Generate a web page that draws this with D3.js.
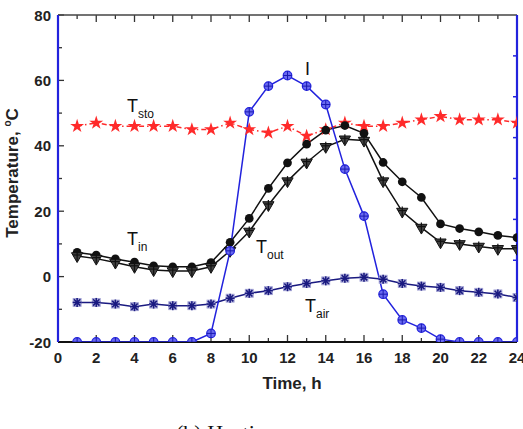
<!DOCTYPE html>
<html>
<head>
<meta charset="utf-8">
<script src="https://cdn.jsdelivr.net/npm/d3@7.9.0/dist/d3.min.js"></script>
<style>
  body { margin: 0; background: #fff; }
  svg { display: block; font-family: Arial, "Liberation Sans", sans-serif; }
</style>
</head>
<body>
<svg id="chart" width="523" height="429"></svg>
<script>
// hours of the day
const hours = d3.range(1, 25);
// temperatures, deg C (left axis)
const tSto = [46, 47, 46, 46, 46, 46, 45, 45, 47, 45, 44, 46, 43, 45, 47, 46, 46, 47, 48, 49, 48, 48, 48, 47];
const tIn  = [7.4, 6.6, 5.4, 4.4, 3.3, 3.0, 3.0, 4.3, 10.5, 17.8, 27.0, 34.8, 40.5, 44.8, 46.2, 43.8, 34.9, 29.0, 24.2, 16.1, 14.7, 13.7, 12.6, 11.9];
const tOut = [6.3, 5.5, 4.3, 3.0, 2.0, 1.7, 1.7, 3.0, 7.9, 13.8, 21.9, 29.2, 34.9, 39.7, 42.0, 41.6, 29.2, 19.9, 15.0, 10.5, 10.0, 9.2, 8.5, 8.5];
const tAir = [-7.9, -7.9, -8.4, -9.2, -8.4, -8.9, -8.9, -8.4, -6.6, -5.1, -4.3, -3.1, -2.1, -1.3, -0.5, -0.2, -0.8, -2.1, -2.9, -3.3, -4.3, -4.8, -5.3, -6.4];
// irradiance I (right axis)
const irr  = [0, 0, 0, 0, 0, 0, 0, 21, 223, 563, 626, 652, 626, 581, 423, 308, 117, 54, 34, 7, 0, 0, 0, 0];

const xTicks = d3.range(0, 25, 2);
const yTicks = d3.range(-20, 81, 20);

const svg = d3.select('#chart');
const pL = 58, pR = 517, pT = 15, pB = 342;

const x = d3.scaleLinear().domain([0, 24]).range([pL, pR]);
const y = d3.scaleLinear().domain([-20, 80]).range([pB, pT]);
const yR = d3.scaleLinear().domain([0, 800]).range([pB, pT]);

const blue = '#2222dd';
const navy = '#1a1a80';
const red = '#ff2a2a';

svg.append('clipPath').attr('id', 'plotclip')
  .append('rect').attr('x', pL).attr('y', pT).attr('width', pR - pL).attr('height', pB - pT);

// ticks, all pointing inward
d3.range(1, 24, 2).forEach(h => {
  svg.append('line').attr('x1', x(h)).attr('x2', x(h)).attr('y1', pT).attr('y2', pT + 4).attr('stroke', '#333').attr('stroke-width', 1.3);
  svg.append('line').attr('x1', x(h)).attr('x2', x(h)).attr('y1', pB).attr('y2', pB - 4).attr('stroke', '#333').attr('stroke-width', 1.3);
});
xTicks.forEach(h => {
  svg.append('line').attr('x1', x(h)).attr('x2', x(h)).attr('y1', pT).attr('y2', pT + 7).attr('stroke', '#333').attr('stroke-width', 1.3);
  svg.append('line').attr('x1', x(h)).attr('x2', x(h)).attr('y1', pB).attr('y2', pB - 7).attr('stroke', '#333').attr('stroke-width', 1.3);
});
d3.range(-10, 80, 20).forEach(v => {
  svg.append('line').attr('x1', pL).attr('x2', pL + 4).attr('y1', y(v)).attr('y2', y(v)).attr('stroke', '#333').attr('stroke-width', 1.3);
});
yTicks.forEach(v => {
  svg.append('line').attr('x1', pL).attr('x2', pL + 6).attr('y1', y(v)).attr('y2', y(v)).attr('stroke', '#333').attr('stroke-width', 1.3);
});
d3.range(100, 800, 100).forEach(v => {
  svg.append('line').attr('x1', pR).attr('x2', pR - 4).attr('y1', yR(v)).attr('y2', yR(v)).attr('stroke', blue).attr('stroke-width', 1.5);
});

// frame
svg.append('line').attr('x1', pL).attr('x2', pR).attr('y1', pT).attr('y2', pT).attr('stroke', '#444').attr('stroke-width', 1.5);
svg.append('line').attr('x1', pL).attr('x2', pR).attr('y1', pB).attr('y2', pB).attr('stroke', '#111').attr('stroke-width', 2);
svg.append('line').attr('x1', pL).attr('x2', pL).attr('y1', pT).attr('y2', pB).attr('stroke', blue).attr('stroke-width', 2.2);
svg.append('line').attr('x1', pR).attr('x2', pR).attr('y1', pT).attr('y2', pB).attr('stroke', blue).attr('stroke-width', 2.2);

// tick labels
svg.selectAll('.xl').data(xTicks).join('text')
  .attr('x', d => x(d)).attr('y', 363).attr('text-anchor', 'middle')
  .attr('font-size', 15).attr('font-weight', 'bold').attr('fill', '#222').text(d => d);
svg.selectAll('.yl').data(yTicks).join('text')
  .attr('x', 51).attr('y', d => y(d) + 5.5).attr('text-anchor', 'end')
  .attr('font-size', 15).attr('font-weight', 'bold').attr('fill', '#222').text(d => d);

// axis titles
svg.append('text').attr('x', 292).attr('y', 389).attr('text-anchor', 'middle')
  .attr('font-size', 17).attr('font-weight', 'bold').attr('fill', '#222').text('Time, h');
const yt = svg.append('text').attr('transform', 'translate(18,173) rotate(-90)').attr('text-anchor', 'middle')
  .attr('font-size', 17).attr('font-weight', 'bold').attr('fill', '#222');
yt.append('tspan').text('Temperature, ');
yt.append('tspan').attr('font-size', 10).attr('dy', -7).text('o');
yt.append('tspan').attr('dy', 7).text('C');

// series
const plot = svg.append('g').attr('clip-path', 'url(#plotclip)');
function series(vals, scale, color, dash, width) {
  const line = d3.line().x((d, i) => x(hours[i])).y(d => scale(d));
  plot.append('path').datum(vals).attr('d', line).attr('fill', 'none')
    .attr('stroke', color).attr('stroke-width', width).attr('stroke-dasharray', dash);
}
series(tAir, y, navy, null, 1.5);
series(tSto, y, red, '5,3,1.5,3', 1.5);
series(tIn, y, '#111', null, 1.5);
series(tOut, y, '#111', null, 1.5);
series(irr, yR, blue, null, 1.5);

const star = d3.symbol().type(d3.symbolStar).size(60);
const circ = d3.symbol().type(d3.symbolCircle).size(60);
const tri = d3.symbol().type(d3.symbolTriangle).size(55);

// T_air: square with asterisk
tAir.forEach((v, i) => {
  const g = plot.append('g').attr('transform', `translate(${x(hours[i])},${y(v)})`);
  g.append('rect').attr('x', -4).attr('y', -4).attr('width', 8).attr('height', 8).attr('fill', '#b8b8e0').attr('stroke', '#9a9ad0').attr('stroke-width', 0.8);
  [0, 45, 90, 135].forEach(a => {
    g.append('line').attr('x1', -4.5).attr('x2', 4.5).attr('y1', 0).attr('y2', 0)
      .attr('transform', `rotate(${a})`).attr('stroke', navy).attr('stroke-width', 1.6);
  });
});
// T_sto stars
tSto.forEach((v, i) => {
  plot.append('path').attr('d', star()).attr('transform', `translate(${x(hours[i])},${y(v)})`).attr('fill', red);
});
// T_in circles
tIn.forEach((v, i) => {
  plot.append('path').attr('d', circ()).attr('transform', `translate(${x(hours[i])},${y(v)})`).attr('fill', '#111');
});
// T_out down triangles with cross
tOut.forEach((v, i) => {
  const g = plot.append('g').attr('transform', `translate(${x(hours[i])},${y(v)})`);
  g.append('path').attr('d', tri()).attr('transform', 'rotate(180)').attr('fill', '#444').attr('stroke', '#111').attr('stroke-width', 1);
  g.append('line').attr('x1', -4).attr('x2', 4).attr('y1', -1).attr('y2', -1).attr('stroke', '#111').attr('stroke-width', 1.2);
  g.append('line').attr('x1', 0).attr('x2', 0).attr('y1', -5).attr('y2', 5).attr('stroke', '#111').attr('stroke-width', 1.2);
});
// I circles with cross
irr.forEach((v, i) => {
  const g = plot.append('g').attr('transform', `translate(${x(hours[i])},${yR(v)})`);
  g.append('circle').attr('r', 4.3).attr('fill', '#6a6af0').attr('stroke', blue).attr('stroke-width', 1.2);
  g.append('line').attr('x1', -4.3).attr('x2', 4.3).attr('stroke', '#1a1ab0').attr('stroke-width', 1);
  g.append('line').attr('y1', -4.3).attr('y2', 4.3).attr('stroke', '#1a1ab0').attr('stroke-width', 1);
});

// labels
function label(px, py, main, sub) {
  const t = svg.append('text').attr('x', px).attr('y', py).attr('font-size', 18).attr('fill', '#111');
  t.append('tspan').text(main);
  if (sub) t.append('tspan').attr('font-size', 12).attr('dy', 6).text(sub);
}
label(127, 112, 'T', 'sto');
label(305, 75, 'I');
label(127, 245, 'T', 'in');
label(256, 253, 'T', 'out');
label(305, 312, 'T', 'air');

// caption (cut off at the bottom)
svg.append('text').attr('x', 176).attr('y', 440).attr('font-family', '"Liberation Serif", "Times New Roman", serif')
  .attr('font-size', 22).attr('fill', '#111').text('(b)  Heating');
</script>
</body>
</html>
